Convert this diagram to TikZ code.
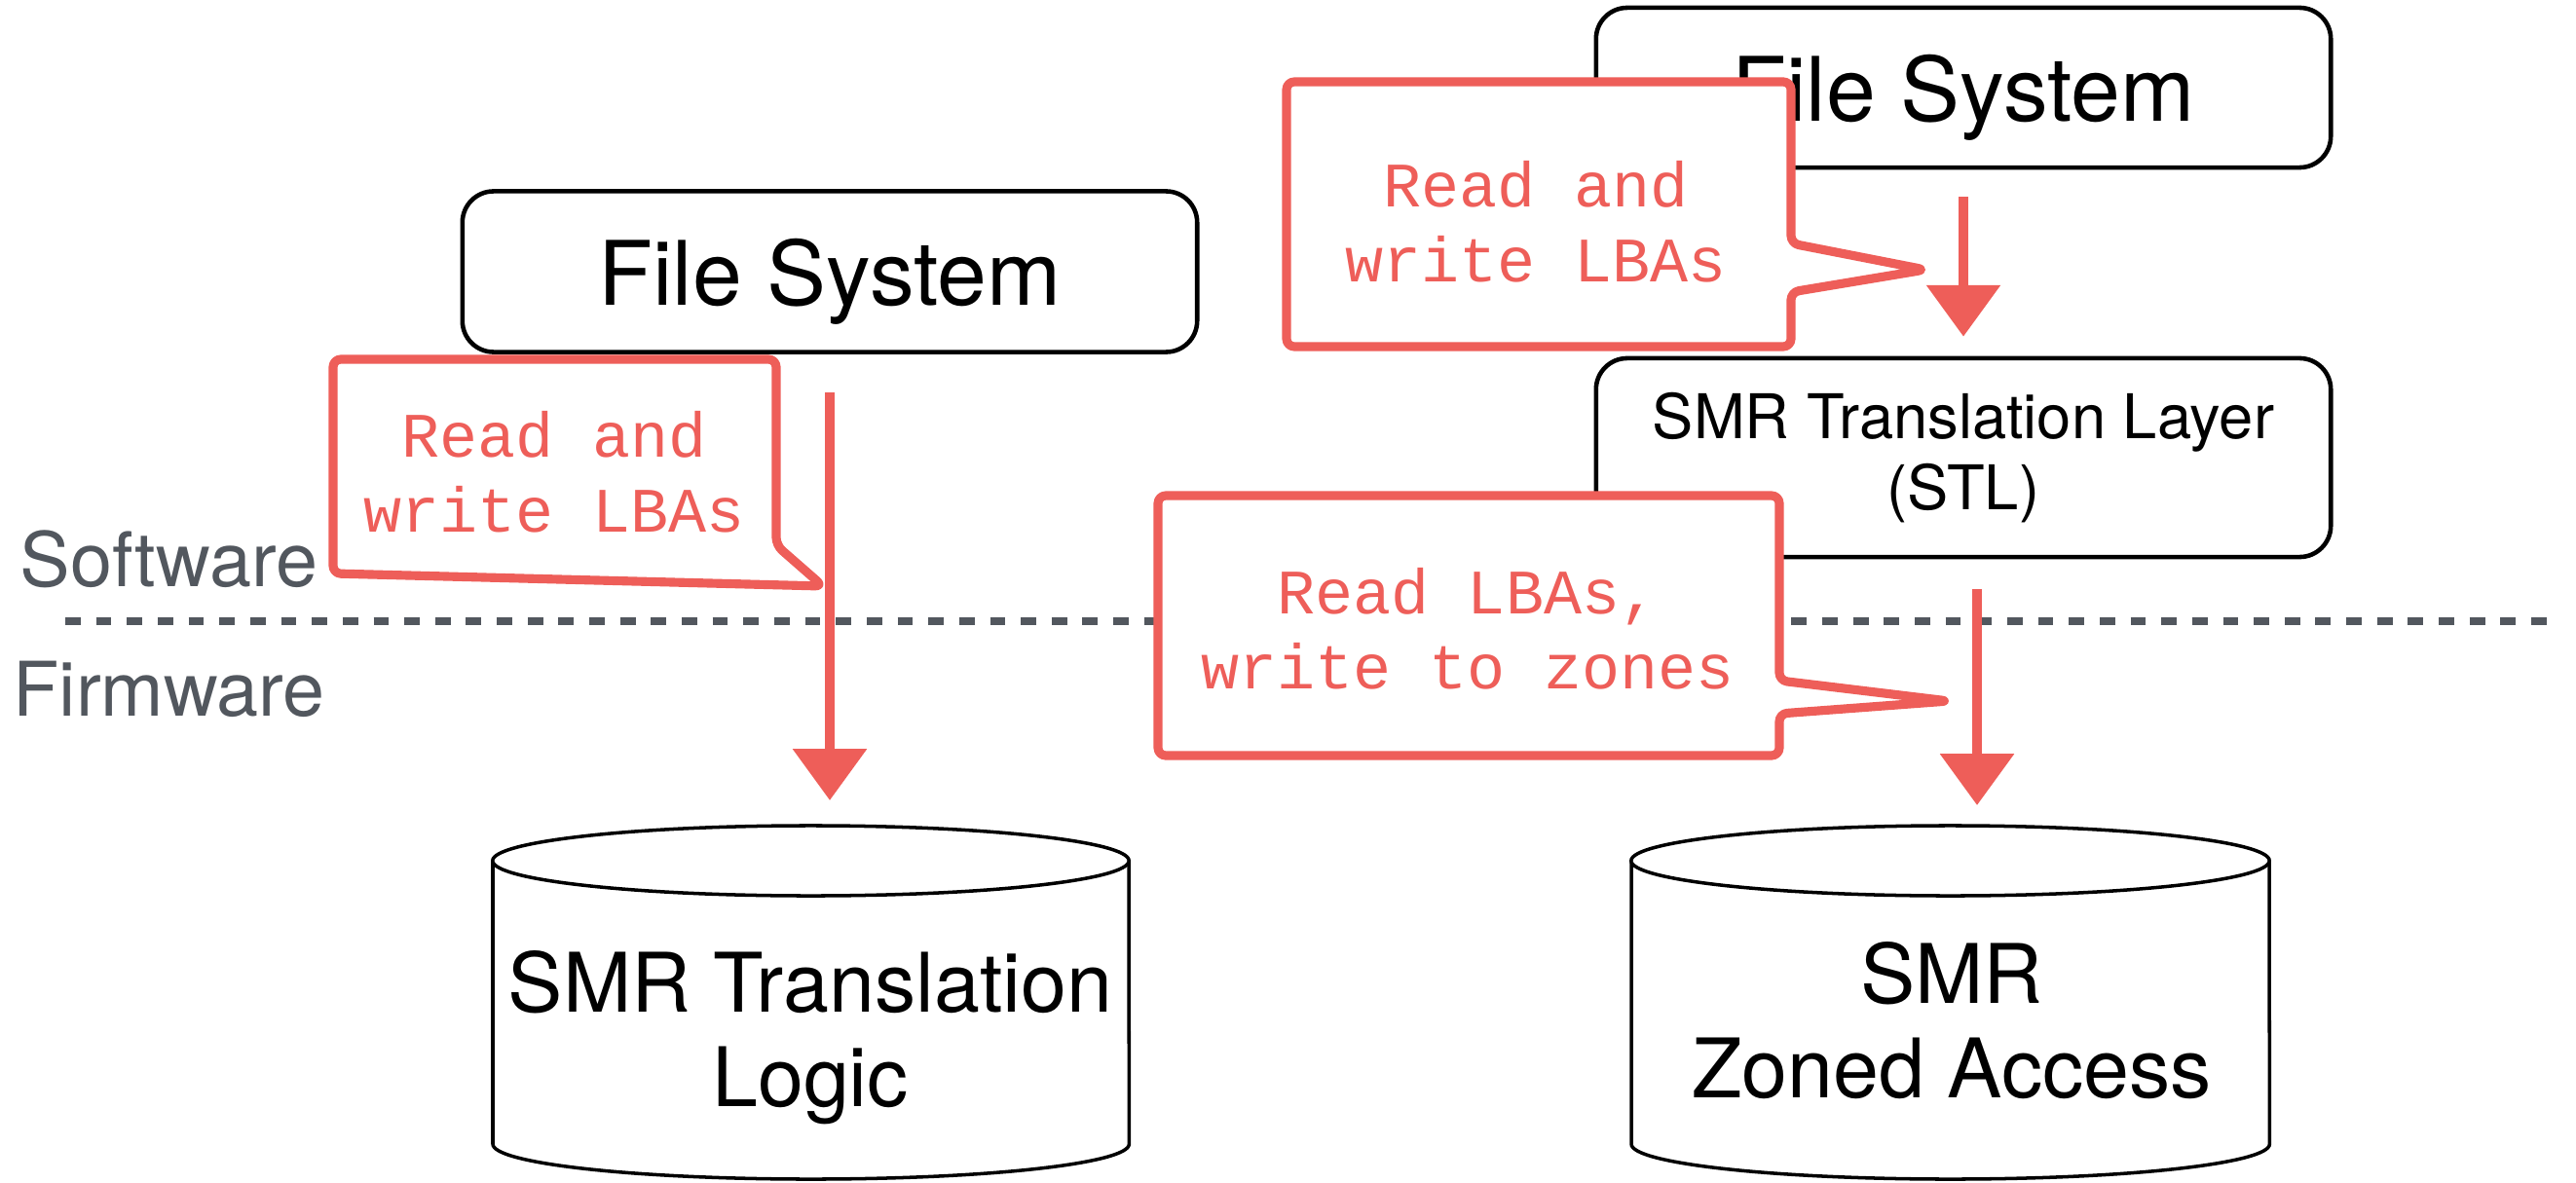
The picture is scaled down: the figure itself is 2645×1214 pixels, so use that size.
\documentclass[tikz,border=0pt]{standalone}
\usepackage{fontspec}
\setmainfont{TeX Gyre Heros}
\newfontfamily\notefont{Liberation Mono}
\usetikzlibrary{arrows.meta}
\usetikzlibrary{calc}
\definecolor{chalk}{RGB}{238,94,89}
\definecolor{slate}{RGB}{82,87,94}

\begin{document}
\begin{tikzpicture}[x=0.01cm,y=0.01cm]
\tikzstyle{fsbox} = [draw, line width=1.3pt, rounded corners=0.32cm, minimum width=7.54cm, align=center]
\tikzstyle{fstext} = [font=\fontsize{26}{30}\selectfont, text height=25pt, text depth=5.5pt]
\tikzstyle{layer} = [text=slate, inner sep=0pt, font=\fontsize{22}{26}\selectfont]
\tikzstyle{note} = [text=chalk, align=center, font=\notefont\fontsize{18.5}{22}\selectfont]
\tikzstyle{bubble} = [draw=chalk, fill=white, line width=2.6pt, rounded corners=0.08cm, line join=round]
\tikzstyle{flow} = [draw=chalk, line width=2.8pt, -{Triangle[width=21pt,length=15pt]}]
\tikzstyle{drum} = [draw, line width=1pt, fill=white]
\tikzstyle{drumtext} = [align=center, font=\fontsize{24}{27.5}\selectfont]
\useasboundingbox (0,0) rectangle (2645,1214);

% software / firmware split
\draw[slate, line width=2.3pt, dash pattern=on 4.5pt off 4.5pt] (67,576) -- (2615,576);
\node[layer, anchor=west] (sw) at (20,640) {Software};
\node[layer, anchor=west] (fw) at (13,506) {Firmware};

% left stack
\node[fsbox, fstext, minimum height=1.65cm] (fsA) at (852,935) {File System};
\draw[drum] (506,330) -- (506,39) arc[start angle=180, end angle=360, x radius=3.265cm, y radius=0.36cm] -- (1159,330);
\draw[drum] (832.5,330) ellipse[x radius=3.265cm, y radius=0.36cm];
\coordinate (dbAtop) at (832.5,366);
\node[drumtext] (dbA) at (832,148) {SMR Translation\\Logic};

% right stack
\node[fsbox, fstext, minimum height=1.64cm] (fsB) at (2016,1124) {File System};
\node[fsbox, minimum height=2.04cm, font=\fontsize{18}{21}\selectfont] (stl) at (2016,744) {SMR Translation Layer\\(STL)};
\draw[drum] (1675,330) -- (1675,39) arc[start angle=180, end angle=360, x radius=3.275cm, y radius=0.36cm] -- (2330,330);
\draw[drum] (2002.5,330) ellipse[x radius=3.275cm, y radius=0.36cm];
\coordinate (dbBtop) at (2002.5,366);
\node[drumtext] (dbB) at (2004,166) {SMR\\Zoned Access};

% callouts
\draw[bubble] (342,845) -- (797,845) -- (797,654) -- (845,612) -- (342,625) -- cycle
  node[note] (cA) at (569,729) {Read and\\write LBAs};
\draw[bubble] (1321,1130) -- (1839,1130) -- (1839,964) -- (1977,937) -- (1839,914) -- (1839,858) -- (1321,858) -- cycle
  node[note] (cB) at (1577,986) {Read and\\write LBAs};
\draw[bubble] (1189,705) -- (1827,705) -- (1827,515) -- (2001,494) -- (1827,481) -- (1827,438) -- (1189,438) -- cycle
  node[note] (cC) at (1507,568) {Read LBAs,\\write to zones};

% arrows
\draw[flow, shorten <=0.39cm, shorten >=0.26cm] (fsA.south) -- (fsA.south |- dbAtop);
\draw[flow, shorten <=0.28cm, shorten >=0.2cm] (fsB.south) -- (stl.north);
\draw[flow, shorten <=0.31cm, shorten >=0.21cm] ([xshift=0.14cm]stl.south) -- ([xshift=0.14cm]stl.south |- dbBtop);
\end{tikzpicture}
\end{document}
